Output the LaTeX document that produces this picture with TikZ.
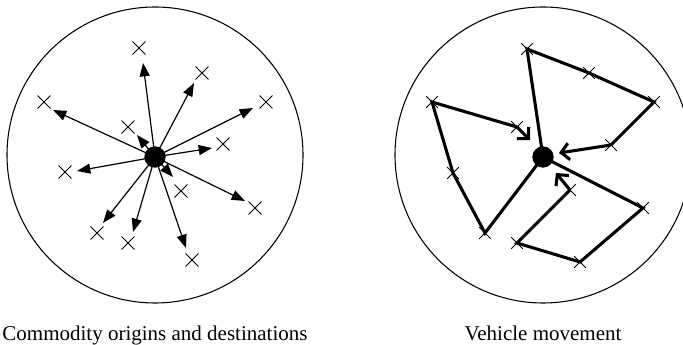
\documentclass[tikz,border=0pt]{standalone}
\usepackage{fontspec}
\setmainfont{Liberation Serif}
\usetikzlibrary{arrows.meta,shapes.misc}
\begin{document}
\begin{tikzpicture}[x=0.75pt,y=-0.75pt,
  ring/.style={draw,line width=0.8pt},
  hub/.style={circle,fill=black,inner sep=0pt,minimum size=16pt},
  bigx/.style={cross out,draw,line width=0.7pt,inner sep=0pt,minimum size=9pt},
  smallx/.style={cross out,draw,line width=0.7pt,inner sep=0pt,minimum size=8pt},
  flow/.style={line width=0.9pt,-{Triangle[length=10pt,width=7.5pt]}},
  route/.style={line width=2.3pt,line join=miter},
  routeend/.style={route,-{Straight Barb[length=6pt,width=12.5pt]}},
  caption/.style={anchor=base,font=\fontsize{15.75pt}{18pt}\selectfont,inner sep=0pt}]
\useasboundingbox (0,0) rectangle (683,345);
% ---------- left panel ----------
\draw[ring] (155,155) circle [radius=148*0.75pt];
\node[hub] (o) at (155,157) {};
\foreach \n/\cx/\cy/\tx/\ty in {
  1/139/48/143/63, 2/202/73/194/83, 3/44/102/53/110, 4/266/102/253/108,
  5/128/127/137/135, 6/223/144/212/148, 7/65/172/77/171, 8/181/191/173/177,
  9/255/208/245/201, 10/97/233/103/223, 11/128/243/133/232, 12/192/260/186/248}{
  \node[bigx] (x\n) at (\cx,\cy) {};
  \coordinate (t\n) at (\tx,\ty);
  \draw[flow] (o.center) -- (t\n);
}
\node[caption] (cap1) at (155,341) {Commodity origins and destinations};
% ---------- right panel ----------
\draw[ring] (543,155) circle [radius=148*0.75pt];
\node[hub] (d) at (543,157) {};
\node[smallx] (A) at (527,49) {};
\node[smallx] (B) at (589,73) {};
\node[smallx] (C) at (654,102) {};
\node[smallx] (D) at (611,145) {};
\node[smallx] (E) at (432,102) {};
\node[smallx] (F) at (517,127) {};
\node[smallx] (G) at (453,173) {};
\node[smallx] (H) at (485,233) {};
\node[smallx] (I) at (570,190) {};
\node[smallx] (J) at (643,208) {};
\node[smallx] (K) at (517,243) {};
\node[smallx] (L) at (580,262) {};
\coordinate (e1) at (559,153);
\coordinate (e2) at (530,140);
\coordinate (e3) at (556,173);
\draw[route] (d.center) -- (A.center) -- (B.center) -- (C.center) -- (D.center);
\draw[routeend] (D.center) -- (e1);
\draw[route] (d.center) -- (H.center) -- (G.center) -- (E.center) -- (F.center);
\draw[routeend] (F.center) -- (e2);
\draw[route] (d.center) -- (J.center) -- (L.center) -- (K.center) -- (I.center);
\draw[routeend] (I.center) -- (e3);
\node[caption] (cap2) at (543,341) {Vehicle movement};
\end{tikzpicture}
\end{document}
